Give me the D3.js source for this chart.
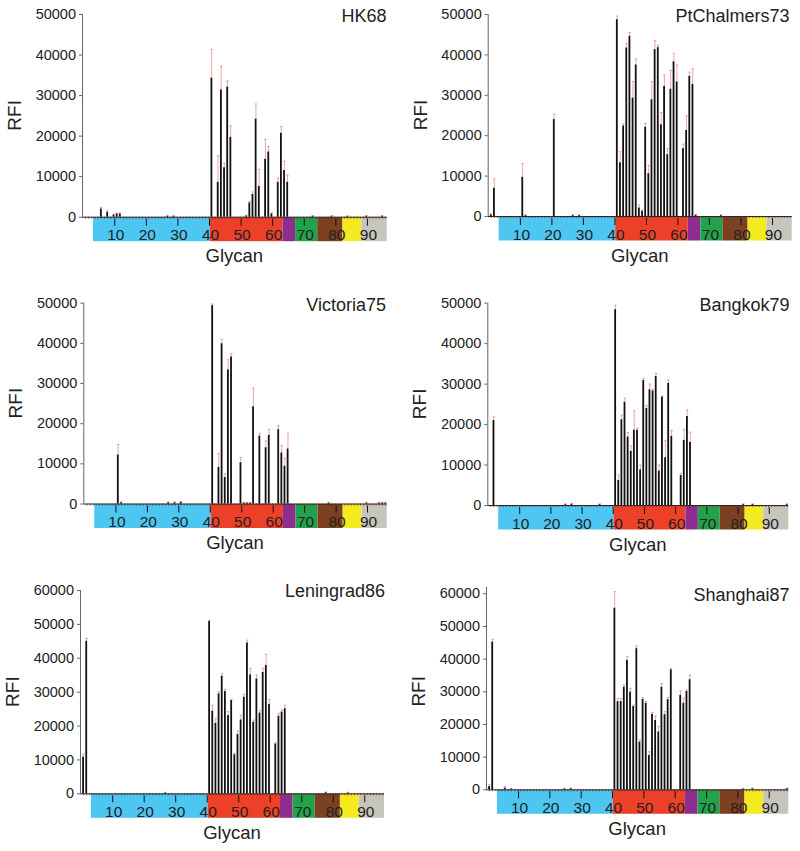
<!DOCTYPE html>
<html>
<head>
<meta charset="utf-8">
<script src="https://cdn.jsdelivr.net/npm/d3@7"></script>
<style>
html,body{margin:0;padding:0;background:#fff;}
svg text{font-family:"Liberation Sans",Arial,Helvetica,sans-serif;fill:#222;}
</style>
</head>
<body>
<svg id="chart" width="800" height="851"></svg>
<script>
// ---- data: [glycan number, mean RFI, error (SD)] ----
const hk68 = [[6,2000,300],[8,1200,400],[10,500,100],[11,800,100],[12,800,100],[27,200,100],[29,200,50],
  [41,34300,7000],[43,8600,6400],[44,31400,5800],[45,12200,1000],[46,32100,1400],[47,19700,2700],
  [52,300,100],[53,3500,300],[54,5600,500],[55,24200,3600],[56,7600,4100],[58,14300,4800],[59,16100,1200],
  [60,800,100],[62,8600,900],[63,20700,1500],[64,11500,2200],[65,8600,1700],
  [73,200,100],[79,200,100],[84,150,100],[90,200,100],[95,200,100]];
const ptChalmers73 = [[1,400,100],[2,7000,2200],[11,9700,3300],[12,200,100],[21,24000,1200],[27,200,100],[29,200,100],
  [41,48700,800],[42,13300,2600],[43,22400,400],[44,41700,1000],[45,44600,800],[46,29300,4000],[47,37500,1400],
  [48,2100,600],[49,1300,200],[50,22100,800],[51,10600,1900],[52,28900,4400],[53,41300,2100],[54,41800,500],
  [55,22700,2900],[56,32200,2700],[57,15300,1400],[58,31500,4500],[59,38300,2000],[60,33300,4100],
  [62,16800,1000],[63,21300,3500],[64,34700,900],[65,32700,3700],[66,300,100],[74,200,100]];
const victoria75 = [[11,12200,2500],[12,300,100],[27,300,100],[29,300,100],[31,400,100],
  [41,49400,300],[43,9100,3300],[44,39900,1000],[45,6600,800],[46,33400,2400],[47,36600,700],
  [50,10300,1200],[51,200,50],[52,200,50],[53,200,50],[54,24200,4500],[56,16900,600],[58,14000,1600],[59,17100,1400],
  [62,18500,900],[63,12700,1700],[64,9400,1900],[65,13700,3800],
  [78,200,100],[90,200,100],[94,200,100],[95,200,100],[96,200,100]];
const bangkok79 = [[2,21000,800],[25,200,100],[27,300,100],[36,200,100],
  [41,48400,1000],[42,6200,1200],[43,21200,1000],[44,25500,900],[45,16900,1000],[46,13400,1200],[47,18600,4700],
  [48,18600,400],[49,8800,1100],[50,30900,400],[51,24000,600],[52,28600,1300],[53,28300,300],[54,31900,600],
  [55,8500,1400],[56,26800,100],[57,11800,4100],[58,30200,700],[59,17100,1300],
  [62,7400,400],[63,16100,2600],[64,22000,1500],[65,15600,2400],[82,200,100],[85,200,100],[96,200,100]];
const leningrad86 = [[1,10800,800],[2,45000,700],[27,200,100],
  [41,50900,200],[42,24400,1600],[43,20800,1300],[44,29500,500],[45,34700,700],[46,30200,500],[47,23100,1000],
  [48,27500,200],[49,11500,300],[50,17500,900],[51,21800,1300],[52,28500,700],[53,44500,700],[54,35100,1800],
  [55,21100,500],[56,33900,1000],[57,23800,600],[58,35800,1100],[59,37900,3100],[60,26400,1300],
  [62,14700,200],[63,22900,700],[64,24100,500],[65,25100,900],[78,300,100],[85,200,100]];
const shanghai87 = [[1,1000,400],[2,45200,700],[6,500,300],[8,200,100],[25,200,100],[27,300,100],
  [41,55600,4900],[42,27000,800],[43,27000,800],[44,31400,500],[45,39600,1000],[46,29900,1000],[47,25500,300],
  [48,43200,700],[49,14600,500],[50,27700,400],[51,26500,500],[52,10500,1000],[53,23100,400],[54,21200,1200],
  [55,17700,1500],[56,31400,1000],[57,23000,800],[58,27600,500],[59,36700,300],
  [62,28900,1200],[63,26500,1400],[64,30100,300],[65,33700,1300],[82,200,100],[85,300,100],[96,300,100]];

const panelTitles = ["HK68","PtChalmers73","Victoria75","Bangkok79","Leningrad86","Shanghai87"];
const panelData = [hk68, ptChalmers73, victoria75, bangkok79, leningrad86, shanghai87];
const yTicks50 = [0,10000,20000,30000,40000,50000];
const yTicks60 = [0,10000,20000,30000,40000,50000,60000];
const xTickLabels = [10,20,30,40,50,60,70,80,90];
const glycanCount = 96;

// glycan classes shown as coloured band under the x axis
const bandStarts = [4,41,64,68,75,83,89];
const bandEnds   = [40,63,67,74,82,88,96];
const bandColors = ["#4dc6f2","#ec4128","#8e2d90","#21a24b","#7b4120","#f3ea1f","#c5c5bc"];

// ---- layout (pixel frames of each panel) ----
const frames = [
  {left:82,   right:386.7, y0:216.7, yTopVal:50000, yTop:14,    axisTop:14,    ticks:yTicks50, titleX:386.5, titleY:21.7},
  {left:487.7,right:791.7, y0:216,   yTopVal:50000, yTop:14,    axisTop:14,    ticks:yTicks50, titleX:789.5, titleY:21.7},
  {left:83.3, right:386.7, y0:503.5, yTopVal:50000, yTop:302.7, axisTop:302.7, ticks:yTicks50, titleX:386,   titleY:310.7},
  {left:487.3,right:788.3, y0:505,   yTopVal:50000, yTop:302.7, axisTop:302.7, ticks:yTicks50, titleX:789.5, titleY:310.7},
  {left:80,   right:384,   y0:793.3, yTopVal:60000, yTop:590,   axisTop:590,   ticks:yTicks60, titleX:385,   titleY:596.7},
  {left:486,  right:788.3, y0:789.3, yTopVal:60000, yTop:593.3, axisTop:586.7, ticks:yTicks60, titleX:789.5, titleY:600.7}
];

const svg = d3.select("#chart");

frames.forEach((f, pi) => {
  const g = svg.append("g");
  const data = panelData[pi];
  const x = d3.scaleLinear().domain([0.5, glycanCount + 0.5]).range([f.left + 1.5, f.right]);
  const y = d3.scaleLinear().domain([0, f.yTopVal]).range([f.y0, f.yTop]);
  const bw = 1.8;

  // coloured class band
  g.selectAll("rect.band").data(bandStarts).join("rect")
    .attr("x", (d) => x(d - 0.5))
    .attr("width", (d, i) => x(bandEnds[i] + 0.5) - x(d - 0.5))
    .attr("y", f.y0 + 0.5)
    .attr("height", 24)
    .attr("fill", (d, i) => bandColors[i]);

  // major ticks and labels inside band
  g.selectAll("line.maj").data(xTickLabels).join("line")
    .attr("x1", (d) => x(d + 0.4)).attr("x2", (d) => x(d + 0.4))
    .attr("y1", f.y0 + 2).attr("y2", f.y0 + 9)
    .attr("stroke", "#111").attr("stroke-width", 1);
  g.selectAll("text.maj").data(xTickLabels).join("text")
    .attr("x", (d) => x(d + 0.4) + 1)
    .attr("y", f.y0 + 23.5)
    .attr("text-anchor", "middle")
    .attr("font-size", "15.5px")
    .attr("fill", "#111")
    .text((d) => d);

  // minor ticks for every glycan (x axis)
  const xAxis = d3.axisBottom(x).tickValues(d3.range(1, glycanCount + 1)).tickSize(2).tickSizeOuter(0).tickFormat("");
  const xa = g.append("g").attr("transform", `translate(0,${f.y0})`).call(xAxis);
  xa.select(".domain").attr("stroke", "#222").attr("d", `M${f.left},0.5H${f.right}`);
  xa.selectAll(".tick line").attr("stroke", "#6a2a2a").attr("stroke-width", 0.8);

  // y axis
  const yAxis = d3.axisLeft(y).tickValues(f.ticks).tickSize(3).tickPadding(3).tickSizeOuter(0).tickFormat(d3.format("d"));
  const ya = g.append("g").attr("transform", `translate(${f.left},0)`).call(yAxis);
  ya.select(".domain").attr("stroke", "#666").attr("d", `M0.5,${f.axisTop}V${f.y0}`);
  ya.selectAll(".tick line").attr("stroke", "#666");
  ya.selectAll(".tick text").attr("font-size", "14.5px").attr("fill", "#222")
    .style("font-family", '"Liberation Sans",Arial,sans-serif');

  // error bars
  const err = g.selectAll("g.err").data(data).join("g").attr("class", "err");
  err.append("line")
    .attr("x1", (d) => x(d[0]) + 0.3).attr("x2", (d) => x(d[0]) + 0.3)
    .attr("y1", (d) => y(d[1])).attr("y2", (d) => y(d[1] + d[2]))
    .attr("stroke", "#f19a9a").attr("stroke-width", 0.9);
  err.append("line")
    .attr("x1", (d) => x(d[0]) - 0.9).attr("x2", (d) => x(d[0]) + 1.5)
    .attr("y1", (d) => y(d[1] + d[2])).attr("y2", (d) => y(d[1] + d[2]))
    .attr("stroke", "#ee8a8a").attr("stroke-width", 0.9);

  // bars
  g.selectAll("rect.bar").data(data).join("rect")
    .attr("x", (d) => x(d[0]) - bw / 2)
    .attr("width", bw)
    .attr("y", (d) => y(d[1]))
    .attr("height", (d) => f.y0 - y(d[1]))
    .attr("fill", "#111");

  // titles and axis labels
  g.append("text").attr("x", f.titleX).attr("y", f.titleY)
    .attr("text-anchor", "end").attr("font-size", "18px").text(panelTitles[pi]);
  g.append("text").attr("x", (f.left + f.right) / 2).attr("y", f.y0 + 45.5)
    .attr("text-anchor", "middle").attr("font-size", "18.5px").text("Glycan");
  const ymid = (f.y0 + f.yTop) / 2;
  g.append("text").attr("transform", `translate(${f.left - 61},${ymid}) rotate(-90)`)
    .attr("text-anchor", "middle").attr("font-size", "19px").text("RFI");
});
</script>
</body>
</html>
